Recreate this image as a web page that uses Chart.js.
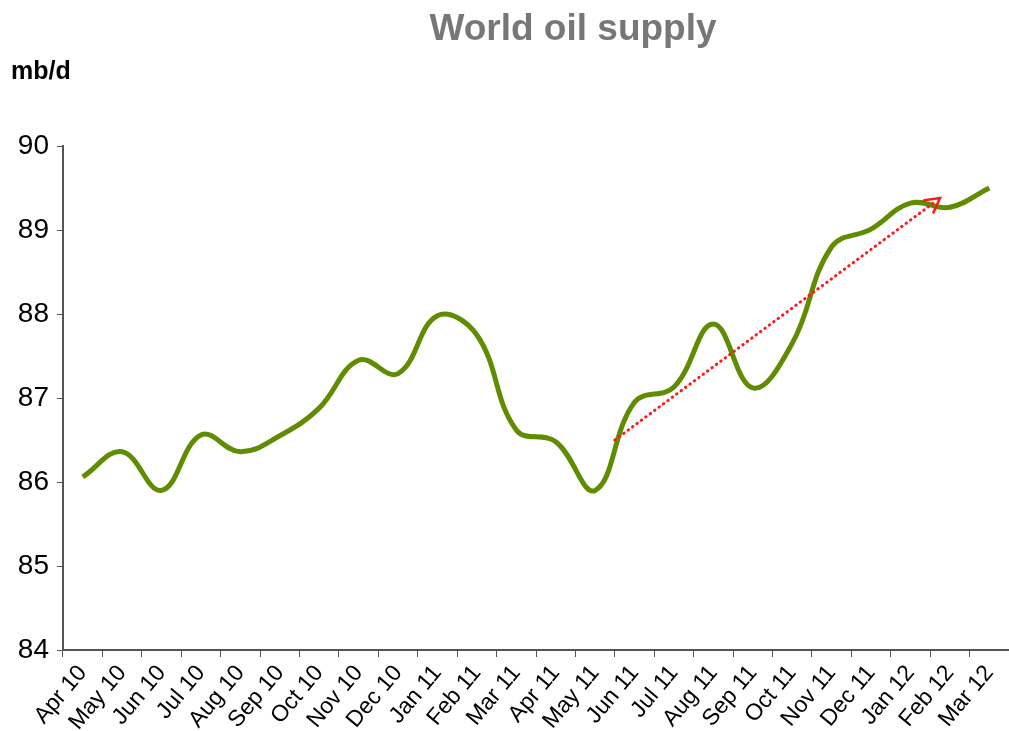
<!DOCTYPE html>
<html>
<head>
<meta charset="utf-8">
<script src="https://cdn.jsdelivr.net/npm/chart.js@4.4.1/dist/chart.umd.min.js"></script>
<style>
  html, body { margin: 0; padding: 0; background: #fff; }
  #wrap { width: 1009px; height: 731px; }
</style>
</head>
<body>
<div id="wrap"><canvas id="grafico" width="1009" height="731"></canvas></div>
<script>
// datos
const meses = ["Apr 10","May 10","Jun 10","Jul 10","Aug 10","Sep 10","Oct 10","Nov 10","Dec 10",
               "Jan 11","Feb 11","Mar 11","Apr 11","May 11","Jun 11","Jul 11","Aug 11","Sep 11",
               "Oct 11","Nov 11","Dec 11","Jan 12","Feb 12","Mar 12"];
const oferta = [86.06, 86.36, 85.9, 86.56, 86.36, 86.55, 86.88, 87.45, 87.29,
                87.98, 87.75, 86.62, 86.48, 85.9, 86.95, 87.13, 87.88, 87.12,
                87.65, 88.8, 89.01, 89.32, 89.27, 89.5];
const ticksY = [84, 85, 86, 87, 88, 89, 90];
// flecha de tendencia: [indice de mes, valor]
const flechaInicio = [13.5, 86.5];
const flechaFin    = [21.75, 89.38];

const textosExtra = {
  id: "textosExtra",
  afterDraw(chart) {
    const ctx = chart.ctx;
    ctx.save();
    ctx.fillStyle = "#777777";
    ctx.font = "bold 37px 'Liberation Sans', Arial, sans-serif";
    ctx.textAlign = "center";
    ctx.textBaseline = "middle";
    ctx.fillText("World oil supply", 573, 30);
    ctx.fillStyle = "#000";
    ctx.font = "bold 25px 'Liberation Sans', Arial, sans-serif";
    ctx.textAlign = "left";
    ctx.fillText("mb/d", 11, 72);
    ctx.restore();
  }
};

const flecha = {
  id: "flecha",
  afterDatasetsDraw(chart) {
    const { ctx, scales: { x, y } } = chart;
    const x1 = x.getPixelForValue(flechaInicio[0]), y1 = y.getPixelForValue(flechaInicio[1]);
    const x2 = x.getPixelForValue(flechaFin[0]),    y2 = y.getPixelForValue(flechaFin[1]);
    const ang = Math.atan2(y2 - y1, x2 - x1);
    ctx.save();
    ctx.strokeStyle = "#ff1a1a";
    ctx.lineWidth = 3;
    ctx.lineCap = "round";
    ctx.setLineDash([0.5, 5]);
    ctx.beginPath();
    ctx.moveTo(x1, y1);
    ctx.lineTo(x2 - 4 * Math.cos(ang), y2 - 4 * Math.sin(ang));
    ctx.stroke();
    ctx.setLineDash([]);
    ctx.lineWidth = 2.5;
    ctx.beginPath();
    ctx.moveTo(x2 - 16 * Math.cos(ang - 0.5), y2 - 16 * Math.sin(ang - 0.5));
    ctx.lineTo(x2, y2);
    ctx.lineTo(x2 - 16 * Math.cos(ang + 0.5), y2 - 16 * Math.sin(ang + 0.5));
    ctx.stroke();
    ctx.restore();
  }
};

new Chart(document.getElementById("grafico").getContext("2d"), {
  type: "line",
  data: {
    labels: meses,
    datasets: [{
      data: oferta,
      borderColor: "#5f8c00",
      borderWidth: 5,
      pointRadius: 0,
      tension: 0.4,
      fill: false
    }]
  },
  options: {
    responsive: false,
    devicePixelRatio: 1,
    animation: false,
    layout: { padding: { top: 146, right: 0, left: 0, bottom: 0 } },
    plugins: { legend: { display: false }, tooltip: { enabled: false } },
    scales: {
      x: {
        offset: true,
        grid: { display: true, drawOnChartArea: false, drawTicks: true, tickLength: 7, color: "#555", offset: true },
        border: { display: true, color: "#555", width: 2 },
        ticks: {
          color: "#000",
          font: { family: "'Liberation Sans', Arial, sans-serif", size: 23 },
          minRotation: 50, maxRotation: 50, autoSkip: false, padding: 3
        },
        afterFit(scale) {
          scale.height = 81;
          scale.paddingLeft = 0;
          scale.paddingRight = 0;
        }
      },
      y: {
        min: 84, max: 90,
        afterBuildTicks(scale) { scale.ticks = ticksY.map(v => ({ value: v })); },
        grid: { display: true, drawOnChartArea: false, drawTicks: true, tickLength: 6, color: "#555" },
        border: { display: true, color: "#555", width: 2 },
        ticks: {
          color: "#000",
          font: { family: "'Liberation Sans', Arial, sans-serif", size: 28 },
          padding: 8
        },
        afterFit(scale) { scale.width = 63; }
      }
    }
  },
  plugins: [textosExtra, flecha]
});
</script>
</body>
</html>
